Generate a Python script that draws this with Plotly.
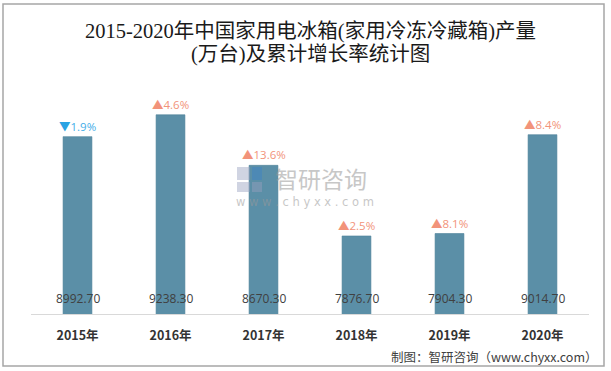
import plotly.graph_objects as go

years = ["2015年", "2016年", "2017年", "2018年", "2019年", "2020年"]
output = [8992.70, 9238.30, 8670.30, 7876.70, 7904.30, 9014.70]
growth = [-1.9, 4.6, 13.6, 2.5, 8.1, 8.4]

W, H = 611, 371
L, R, T, B = 31, 22, 47, 57
pw, ph = W - L - R, H - T - B

def px(x):
    return (x - L) / pw

def py(y):
    return (H - B - y) / ph

BAR = "#5b8fa7"
UP = "#f2937a"
DOWN = "#2aa3e3"

fig = go.Figure()
fig.add_trace(go.Bar(
    x=years, y=output, base=0,
    marker=dict(color=BAR, line=dict(color="#4e8199", width=0.6)),
    hoverinfo="x+y", showlegend=False,
))

ann = []
for yr, v, g in zip(years, output, growth):
    ann.append(dict(x=yr, y=7000, xref="x", yref="y", text=f"{v:.2f}",
                    showarrow=False, yanchor="bottom", yshift=5,
                    font=dict(family="Open Sans, Noto Sans CJK SC", size=12, color="#404040")))
    if g < 0:
        t = f"<span style='color:{DOWN}'>▼</span>{abs(g):.1f}%"
        c = "#45aee8"
    else:
        t = f"<span style='color:{UP}'>▲</span>{g:.1f}%"
        c = UP
    ann.append(dict(x=yr, y=v, xref="x", yref="y", text=t, showarrow=False,
                    yanchor="bottom", yshift=2, borderpad=0,
                    font=dict(family="Open Sans, Noto Sans CJK SC", size=11.5, color=c)))

# title
ann.append(dict(x=0.5, y=py(31), xref="paper", yref="paper", xanchor="center", yanchor="middle",
                text="2015-2020年中国家用电冰箱(家用冷冻冷藏箱)产量", showarrow=False,
                font=dict(family="Liberation Serif, Noto Sans CJK SC", size=20.5, color="#1a1a1a")))
ann.append(dict(x=0.5, y=py(55), xref="paper", yref="paper", xanchor="center", yanchor="middle",
                text="(万台)及累计增长率统计图", showarrow=False,
                font=dict(family="Liberation Serif, Noto Sans CJK SC", size=20.5, color="#1a1a1a")))
# source
ann.append(dict(x=px(600), y=py(356), xref="paper", yref="paper", xanchor="right", yanchor="middle",
                text="制图：智研咨询（www.chyxx.com）", showarrow=False,
                font=dict(family="Noto Sans CJK SC", size=12.5, color="#404040")))
# watermark
ann.append(dict(x=px(321), y=py(178), xref="paper", yref="paper", xanchor="center", yanchor="middle",
                text="智研咨询", showarrow=False, opacity=0.55, borderpad=0,
                font=dict(family="Noto Sans CJK SC", size=23, color="#9a9a9a")))
ann.append(dict(x=px(305), y=py(202), xref="paper", yref="paper", xanchor="center", yanchor="middle",
                text="w w w . c h y x x . c o m", showarrow=False, opacity=0.55, borderpad=0,
                font=dict(family="DejaVu Sans", size=11.5, color="#9a9a9a")))

shapes = [
    dict(type="rect", xref="paper", yref="paper", x0=px(3), x1=px(604), y0=py(366), y1=py(4),
         line=dict(color="#a6a6a6", width=1.5), fillcolor="rgba(0,0,0,0)", layer="below"),
    # watermark logo
    dict(type="rect", xref="paper", yref="paper", x0=px(237), x1=px(250), y0=py(180), y1=py(167),
         line=dict(width=0), fillcolor="rgba(150,160,190,0.45)"),
    dict(type="rect", xref="paper", yref="paper", x0=px(252), x1=px(262), y0=py(180), y1=py(167),
         line=dict(width=0), fillcolor="rgba(60,130,200,0.45)"),
    dict(type="rect", xref="paper", yref="paper", x0=px(237), x1=px(250), y0=py(192), y1=py(182),
         line=dict(width=0), fillcolor="rgba(150,160,190,0.45)"),
    dict(type="rect", xref="paper", yref="paper", x0=px(252), x1=px(262), y0=py(192), y1=py(182),
         line=dict(width=0), fillcolor="rgba(150,160,190,0.45)"),
]

fig.update_layout(
    width=W, height=H,
    margin=dict(l=L, r=R, t=T, b=B),
    paper_bgcolor="white", plot_bgcolor="white",
    bargap=0.69,
    annotations=ann, shapes=shapes,
    xaxis=dict(showline=True, linecolor="#d9d9d9", linewidth=1, ticks="",
               tickfont=dict(family="Noto Sans CJK SC", size=12.5, color="#333333", weight="bold"),
               ticklabelstandoff=10, showgrid=False),
    yaxis=dict(range=[7000, 10000], visible=False, showgrid=False, zeroline=False),
)

fig.write_html("out.html", config={"displayModeBar": False},
               post_script="document.body.style.margin='0';document.body.style.overflow='hidden';")
